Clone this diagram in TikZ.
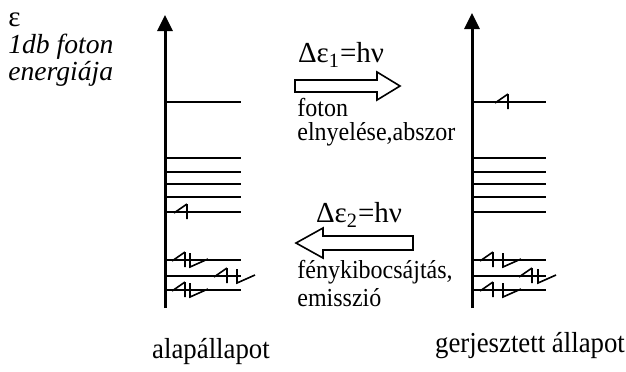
\documentclass[tikz,border=0pt]{standalone}
\usepackage{fontspec}
\setmainfont{Liberation Serif}
\usetikzlibrary{arrows.meta, positioning}

\begin{document}
\begin{tikzpicture}[x=0.5pt, y=-0.5pt,
    axis/.style={line width=1.5pt, -{Triangle[width=7.5pt, length=8pt]}},
    level/.style={line width=1pt},
    spin/.style={line width=0.8pt},
    photon/.style={draw, line width=0.8pt},
    txt/.style={inner sep=0pt, yscale=1.08, font=\fontsize{12}{13.5}\selectfont},
    statetxt/.style={inner sep=0pt, yscale=1.08, font=\fontsize{13.4}{15}\selectfont},
    bigtxt/.style={inner sep=0pt, font=\fontsize{14.5}{17}\selectfont},
    unittxt/.style={inner sep=0pt, anchor=west, font=\fontsize{13.8}{16}\selectfont\itshape},
    upspin/.pic={\draw[spin] (0,-8) -- (0,7) (0,-8) -- (-13,1);},
    downspin/.pic={\draw[spin] (0,-7) -- (0,7) -- (18,-1);}]
    \useasboundingbox (0,0) rectangle (626,371);

    % axes
    \coordinate (ground0) at (165,308);
    \coordinate (ground1) at (165,15);
    \coordinate (excit0) at (472,308);
    \coordinate (excit1) at (472,13);
    \draw[axis] (ground0) -- (ground1);
    \draw[axis] (excit0) -- (excit1);

    % energy levels
    \foreach \y in {102,158,172,184,197,212,260,276,290} {
        \draw[level] (165,\y) -- (241,\y);
        \draw[level] (472,\y) -- (546,\y);
    }

    % electrons, ground state
    \pic at (187,212) {upspin};
    \pic at (185,260) {upspin};
    \pic at (190,260) {downspin};
    \pic at (227,276) {upspin};
    \pic at (237,276) {downspin};
    \pic at (185,290) {upspin};
    \pic at (190,290) {downspin};

    % electrons, excited state
    \pic at (508,102) {upspin};
    \pic at (493,260) {upspin};
    \pic at (503,260) {downspin};
    \pic at (532,276) {upspin};
    \pic at (538,276) {downspin};
    \pic at (493,290) {upspin};
    \pic at (503,290) {downspin};

    % photon arrows
    \draw[photon] (295,80) -- (377,80) -- (377,72) -- (400,86) -- (377,100) -- (377,92) -- (295,92) -- cycle;
    \draw[photon] (413,236) -- (323,236) -- (323,228) -- (296,243) -- (323,258) -- (323,250) -- (413,250) -- cycle;

    % labels
    \node[bigtxt, anchor=west] (eps) at (8,20) {ε};
    \node[unittxt] (unit1) at (8,47) {1db foton};
    \node[unittxt] (unit2) at (8,74) {energiája};

    \node[bigtxt] (de1) at (341,55) {Δε\textsubscript{1}=hν};
    \node[txt, anchor=west] (abs1) at (297,107) {foton};
    \node[txt, anchor=west] (abs2) at (297,134) {elnyelése,abszor};

    \node[bigtxt] (de2) at (359,215) {Δε\textsubscript{2}=hν};
    \node[txt, anchor=west] (emi1) at (297,272) {fénykibocsájtás,};
    \node[txt, anchor=west] (emi2) at (297,298) {emisszió};

    \node[statetxt] (ground) at (211,352) {alapállapot};
    \node[statetxt] (excit) at (530,346) {gerjesztett állapot};
\end{tikzpicture}
\end{document}
